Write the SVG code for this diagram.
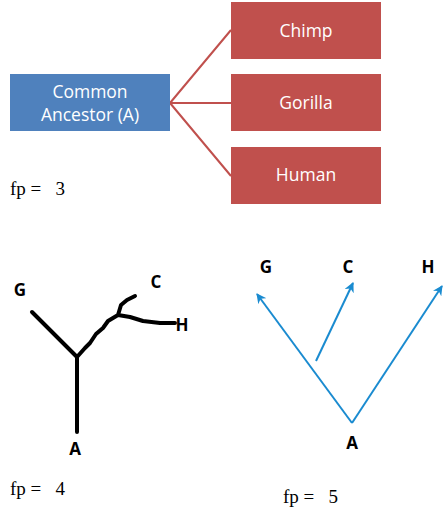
<svg xmlns="http://www.w3.org/2000/svg" width="443" height="513" viewBox="0 0 443 513">
<style>
.box-b{fill:#4f81bd}
.box-r{fill:#c0504d}
.bt{font-family:"Open Sans","Noto Sans",sans-serif;font-size:17.5px;fill:#ffffff;text-anchor:middle}
.fp{font-family:"Liberation Serif",serif;font-size:19px;fill:#000}
.lbl{font-family:"Open Sans","Noto Sans",sans-serif;font-size:17px;font-weight:bold;fill:#000;text-anchor:middle}
.ln-r{stroke:#c0504d;stroke-width:2;fill:none}
.ln-k{stroke:#000;stroke-width:4;fill:none;stroke-linecap:round;stroke-linejoin:round}
.ln-b{stroke:#1a8bd0;stroke-width:2;fill:none}
</style>
<defs>
<marker id="ah" viewBox="0 0 10 10" refX="9" refY="5" markerWidth="5" markerHeight="5" orient="auto" markerUnits="strokeWidth">
<path d="M0,0 L10,5 L0,10 L3,5 Z" fill="#1a8bd0"/>
</marker>
</defs>
<rect width="443" height="513" fill="#fff"/>
<g id="connectors">
<path class="ln-r" d="M170,103 L231,30 M170,103 L231,103 M170,103 L231,176"/>
<path class="ln-k" d="M77,432 L77,357 M77,357 L32,312 M77,357 L85,348 L90,343 L96,334 L103,328 L108,321 L113,318 L118,315 L121,305 L127,300 L135,296 M118,315 L130,317 L143,321 L160,323 L175,323"/>
<path class="ln-b" d="M352,423 L257,294" marker-end="url(#ah)"/>
<path class="ln-b" d="M352,423 L442,286" marker-end="url(#ah)"/>
<path class="ln-b" d="M316,361 L353,283" marker-end="url(#ah)"/>
</g>
<g id="ancestor">
<rect class="box-b" x="10" y="74" width="160" height="57"/>
<text class="bt" x="90" y="98">Common</text>
<text class="bt" x="90" y="121">Ancestor (A)</text>
</g>
<g id="chimp">
<rect class="box-r" x="231" y="2" width="150" height="57"/>
<text class="bt" x="306" y="37">Chimp</text>
</g>
<g id="gorilla">
<rect class="box-r" x="231" y="74" width="150" height="57"/>
<text class="bt" x="306" y="109">Gorilla</text>
</g>
<g id="human">
<rect class="box-r" x="231" y="147" width="150" height="57"/>
<text class="bt" x="306" y="181">Human</text>
</g>
<text class="fp" x="10" y="195" xml:space="preserve">fp =   3</text>
<g id="tree4">
<text class="lbl" x="20" y="296">G</text>
<text class="lbl" x="156" y="288">C</text>
<text class="lbl" x="182" y="331">H</text>
<text class="lbl" x="75" y="455">A</text>
</g>
<text class="fp" x="10" y="495" xml:space="preserve">fp =   4</text>
<g id="tree5">
<text class="lbl" x="266" y="273">G</text>
<text class="lbl" x="348" y="273">C</text>
<text class="lbl" x="428" y="273">H</text>
<text class="lbl" x="352" y="449">A</text>
</g>
<text class="fp" x="283" y="503" xml:space="preserve">fp =   5</text>
</svg>
